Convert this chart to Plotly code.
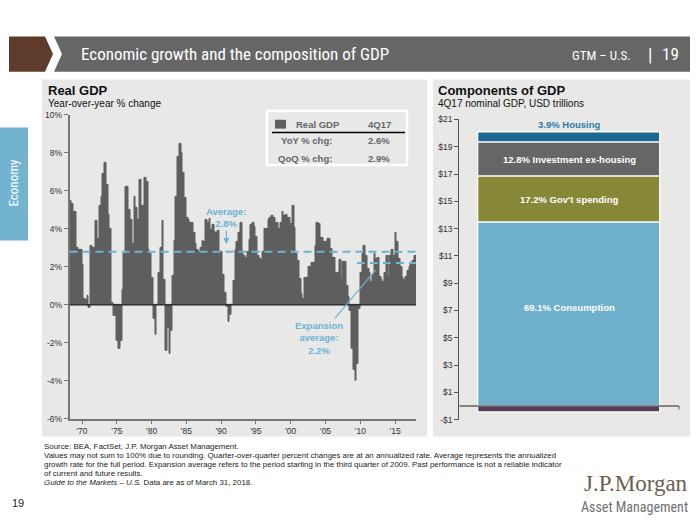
import plotly.graph_objects as go

# ---------------- DATA ----------------
start_year = 1968
real_gdp_yoy = [
    5.0, 5.5, 5.3, 4.9,     # 1968
    4.9, 3.0, 2.9, 2.9,     # 1969
    2.1, 0.3, 0.25, 0.5,    # 1970
    -0.15, 3.1, 3.0, 3.0,   # 1971
    4.4, 3.5, 5.2, 5.7,     # 1972
    6.9, 7.5, 6.3, 4.75,    # 1973
    4.0, 0.1, -0.6, -0.6,   # 1974
    -1.9, -2.3, -1.9, 0.8,  # 1975
    2.7, 6.2, 6.2, 5.0,     # 1976
    4.5, 3.2, 5.7, 5.1,     # 1977
    4.5, 6.6, 5.2, 5.2,     # 1978
    6.7, 6.5, 2.9, 2.7,     # 1979
    1.4, -0.75, -1.6, 0.0,  # 1980
    1.7, 3.0, 4.4, 1.3,     # 1981
    -2.4, -1.2, -2.6, -1.35,  # 1982
    1.55, 3.35, 5.7, 7.8,   # 1983
    8.5, 8.0, 6.95, 5.65,   # 1984
    4.6, 4.5, 4.3, 4.3,     # 1985
    3.8, 3.2, 2.9, 2.8,     # 1986
    3.0, 3.35, 3.3, 4.45,   # 1987
    4.3, 4.55, 3.95, 4.2,   # 1988
    3.85, 3.8, 3.9, 2.8,    # 1989
    2.8, 1.6, 0.65, -0.1,   # 1990
    -0.9, -0.5, 0.0, 1.25,  # 1991
    2.9, 3.3, 3.8, 4.3,     # 1992
    2.8, 2.6, 2.5, 2.8,     # 1993
    3.4, 4.2, 4.3, 4.1,     # 1994
    3.6, 2.6, 2.4, 2.3,     # 1995
    2.8, 4.0, 4.0, 4.5,     # 1996
    4.6, 4.7, 4.6, 4.3,     # 1997
    4.3, 4.0, 4.3, 4.9,     # 1998
    4.7, 4.75, 4.6, 4.6,    # 1999
    4.25, 5.2, 4.05, 2.7,   # 2000
    2.3, 1.35, 0.6, 0.3,    # 2001
    1.4, 1.4, 2.0, 2.0,     # 2002
    2.2, 2.2, 3.1, 4.3,     # 2003
    4.25, 3.55, 3.55, 3.3,  # 2004
    3.3, 3.45, 3.45, 2.95,  # 2005
    2.5, 2.5, 1.7, 1.7,     # 2006
    2.35, 1.35, 2.25, 2.25, # 2007
    1.0, 0.4, -0.3, -2.3,   # 2008
    -3.4, -4.0, -3.1, -0.2, # 2009
    1.7, 2.7, 3.1, 2.6,     # 2010
    1.9, 1.7, 1.2, 1.6,     # 2011
    2.7, 2.4, 2.5, 1.5,     # 2012
    1.3, 1.2, 1.7, 2.6,     # 2013
    1.5, 2.6, 2.9, 2.6,     # 2014
    3.8, 3.3, 2.4, 2.0,     # 2015
    1.4, 1.3, 1.5, 1.8,     # 2016
    2.0, 2.2, 2.3, 2.6,     # 2017
]
average_growth = 2.8
expansion_average = 2.2
expansion_start = 2009.5
tick_years = [1970, 1975, 1980, 1985, 1990, 1995, 2000, 2005, 2010, 2015]
tick_labels = ["'70", "'75", "'80", "'85", "'90", "'95", "'00", "'05", "'10", "'15"]
y_ticks = [-6, -4, -2, 0, 2, 4, 6, 8, 10]
y_tick_labels = ["-6%", "-4%", "-2%", "0%", "2%", "4%", "6%", "8%", "10%"]

comp_names = ["Consumption", "Gov't spending", "Investment ex-housing", "Housing", "Net exports"]
comp_values = [13.44, 3.41, 2.47, 0.72, -0.5]
comp_shares = ["69.1%", "17.2%", "12.8%", "3.9%", "-3.0%"]
comp_colors = ["#6fb1cc", "#868838", "#666666", "#1d6892", "#5b3a56"]
comp_ticks = [-1, 1, 3, 5, 7, 9, 11, 13, 15, 17, 19, 21]
comp_tick_labels = ["-$1", "$1", "$3", "$5", "$7", "$9", "$11", "$13", "$15", "$17", "$19", "$21"]

W, H = 700, 525
def px(x):
    return x / W
def py(y):
    return 1 - y / H

FONT = "Liberation Sans, Arial, sans-serif"
NARROW = "Liberation Sans Narrow, Arial Narrow, Roboto Condensed, Liberation Sans, sans-serif"
BLUE = "#6ab4d6"
BAR = "#5f5f5f"

fig = go.Figure()

xq = [start_year + i * 0.25 + 0.125 for i in range(len(real_gdp_yoy))]
fig.add_trace(go.Bar(x=xq, y=real_gdp_yoy, width=0.25,
                     marker=dict(color=BAR, line=dict(color=BAR, width=1.0)),
                     xaxis="x", yaxis="y", hoverinfo="x+y"))

for name, v, c in zip(comp_names, comp_values, comp_colors):
    fig.add_trace(go.Bar(x=[0.5], y=[v], width=0.83, name=name,
                         marker=dict(color=c, line=dict(color="white", width=1.2)),
                         xaxis="x2", yaxis="y2"))

shapes = []
# panels
shapes.append(dict(type="rect", xref="paper", yref="paper", x0=px(42), x1=px(427), y0=py(440), y1=py(76),
                   fillcolor="#e8e8e6", line=dict(width=0), layer="below"))
shapes.append(dict(type="rect", xref="paper", yref="paper", x0=px(433), x1=px(690), y0=py(440), y1=py(76),
                   fillcolor="#e8e8e6", line=dict(width=0), layer="below"))
# header
def path(points):
    return "M " + " L ".join(f"{px(a):.5f},{py(b):.5f}" for a, b in points) + " Z"
shapes.append(dict(type="path", xref="paper", yref="paper",
                   path=path([(9, 32), (45, 32), (53, 50), (45, 68), (9, 68)]),
                   fillcolor="#5e3b2b", line=dict(width=0), layer="below"))
shapes.append(dict(type="path", xref="paper", yref="paper",
                   path=path([(54, 32), (690, 32), (690, 68), (54, 68), (62, 50)]),
                   fillcolor="#666666", line=dict(width=0), layer="below"))
# sidebar
shapes.append(dict(type="rect", xref="paper", yref="paper", x0=0, x1=px(28), y0=py(240), y1=py(125),
                   fillcolor="#72b4cf", line=dict(width=0), layer="below"))
# legend box
shapes.append(dict(type="rect", xref="paper", yref="paper", x0=px(267), x1=px(407), y0=py(163), y1=py(108),
                   fillcolor="#e8e8e6", line=dict(color="white", width=2.5), layer="below"))
shapes.append(dict(type="rect", xref="paper", yref="paper", x0=px(275), x1=px(286), y0=py(126), y1=py(117),
                   fillcolor=BAR, line=dict(width=0), layer="above"))
shapes.append(dict(type="line", xref="paper", yref="paper", x0=px(272), x1=px(405), y0=py(130), y1=py(130),
                   line=dict(color="black", width=1.5), layer="above"))
# zero lines
shapes.append(dict(type="line", xref="x domain", yref="y", x0=0, x1=1, y0=0, y1=0,
                   line=dict(color="#222222", width=1.3), layer="above"))
shapes.append(dict(type="line", xref="x2 domain", yref="y2", x0=0, x1=1, y0=0, y1=0,
                   line=dict(color="#222222", width=1.2), layer="above"))
shapes.append(dict(type="line", xref="x2 domain", yref="y2", x0=1, x1=1, y0=0, y1=-0.25,
                   line=dict(color="#555555", width=1), layer="above"))
# averages
shapes.append(dict(type="line", xref="x domain", yref="y", x0=0, x1=1, y0=average_growth, y1=average_growth,
                   line=dict(color=BLUE, width=2, dash="8px,5px"), layer="above"))
shapes.append(dict(type="line", xref="x", yref="y", x0=expansion_start, x1=2018.0,
                   y0=expansion_average, y1=expansion_average,
                   line=dict(color=BLUE, width=2, dash="8px,5px"), layer="above"))

ann = []
def text(t, x, y, size, color, bold=False, xanchor="left", yanchor="middle", family=FONT, angle=0):
    if bold:
        t = f"<b>{t}</b>"
    ann.append(dict(text=t, x=px(x), y=py(y), xref="paper", yref="paper", showarrow=False,
                    xanchor=xanchor, yanchor=yanchor, textangle=angle,
                    font=dict(size=size, color=color, family=family)))

text("Economic growth and the composition of GDP", 79, 50, 17, "white", family=NARROW)
text("GTM – U.S.", 633, 51, 13, "white", xanchor="right", family=NARROW)
text("|", 650, 50, 18, "white", xanchor="center", family=NARROW)
text("19", 670, 50, 17, "white", xanchor="center", family=NARROW)
text("Economy", 14, 182, 13, "white", xanchor="center", family=NARROW, angle=-90)

text("Real GDP", 46, 87, 13, "#111111", bold=True)
text("Year-over-year % change", 46, 100, 10, "#111111")
text("Components of GDP", 436, 87, 13, "#111111", bold=True)
text("4Q17 nominal GDP, USD trillions", 436, 100, 10, "#111111")

text("Real GDP", 294, 121.5, 9.5, "#666666", bold=True)
text("4Q17", 379, 121.5, 9.5, "#666666", bold=True, xanchor="center")
text("YoY % chg:", 334, 138.5, 9.5, "#666666", bold=True, xanchor="right")
text("2.6%", 379, 138.5, 9.5, "#666666", bold=True, xanchor="center")
text("QoQ % chg:", 334, 156, 9.5, "#666666", bold=True, xanchor="right")
text("2.9%", 379, 156, 9.5, "#666666", bold=True, xanchor="center")

footer = [
    "Source: BEA, FactSet, J.P. Morgan Asset Management.",
    "Values may not sum to 100% due to rounding. Quarter-over-quarter percent changes are at an annualized rate. Average represents the annualized",
    "growth rate for the full period. Expansion average refers to the period starting in the third quarter of 2009. Past performance is not a reliable indicator",
    "of current and future results.",
    "<i>Guide to the Markets – U.S.</i> Data are as of March 31, 2018.",
]
for i, line in enumerate(footer):
    text(line, 42, 450 + i * 9.2, 7.9, "#222222")
text("19", 10, 508, 11, "#222222")
text("J.P.Morgan", 690, 488, 23, "#6e5c4c", xanchor="right", family="Liberation Serif, DejaVu Serif, serif")
text("Asset Management", 690, 512, 14, "#707070", xanchor="right", family=NARROW)

# chart annotations
ann.append(dict(text="<b>Average:<br>2.8%</b>", x=1990.75, y=3.2, ax=1990.75, ay=4.6,
                xref="x", yref="y", axref="x", ayref="y", showarrow=True,
                arrowhead=2, arrowsize=1, arrowwidth=1.2, arrowcolor=BLUE,
                font=dict(size=9.5, color=BLUE, family=FONT)))
ann.append(dict(text="<b>Expansion<br>average:<br>2.2%</b>", x=2012.2, y=1.84, ax=2004.0, ay=-1.72,
                xref="x", yref="y", axref="x", ayref="y", showarrow=True,
                arrowhead=0, arrowwidth=1.2, arrowcolor=BLUE,
                font=dict(size=9.5, color=BLUE, family=FONT)))

# component labels
cum = 0.0
pos_tops = []
for v in comp_values[:4]:
    pos_tops.append((cum, cum + v))
    cum += v
label_y = [
    (pos_tops[0][0] + pos_tops[0][1]) / 2 * 1.07,
    (pos_tops[1][0] + pos_tops[1][1]) / 2,
    (pos_tops[2][0] + pos_tops[2][1]) / 2,
    pos_tops[3][1] + 0.6,
    comp_values[4] - 0.77,
]
label_color = ["white", "white", "white", "#2c7ba6", "#5b3a56"]
for name, share, yv, col in zip(comp_names, comp_shares, label_y, label_color):
    sep = "  " if name == "Net exports" else " "
    ann.append(dict(text=f"<b>{share}{sep}{name}</b>", x=0.5, y=yv, xref="x2", yref="y2",
                    showarrow=False, font=dict(size=9.5, color=col, family=FONT)))

fig.update_layout(
    width=W, height=H, margin=dict(l=0, r=0, t=0, b=0),
    paper_bgcolor="white", plot_bgcolor="rgba(0,0,0,0)",
    showlegend=False, barmode="relative", bargap=0,
    font=dict(family=FONT),
    shapes=shapes, annotations=ann,
    xaxis=dict(domain=[px(69.5), px(416)], range=[1968.2, 2018.0], anchor="y",
               tickvals=tick_years, ticktext=tick_labels, ticks="outside", ticklen=3,
               tickcolor="#777777", showline=True, linecolor="#777777", linewidth=1.5,
               showgrid=False, zeroline=False, tickfont=dict(size=8.5, color="#333333")),
    yaxis=dict(domain=[py(422), py(112)], range=[-6, 10], anchor="x",
               tickvals=y_ticks, ticktext=y_tick_labels, ticks="outside", ticklen=4,
               tickcolor="#777777", showline=True, linecolor="#777777", linewidth=1.5,
               showgrid=False, zeroline=False, tickfont=dict(size=8.5, color="#333333")),
    xaxis2=dict(domain=[px(459.3), px(679)], range=[0, 1], anchor="y2", visible=False),
    yaxis2=dict(domain=[py(422.7), py(116.7)], range=[-1, 21], anchor="x2",
                tickvals=comp_ticks, ticktext=comp_tick_labels, ticks="outside", ticklen=4,
                tickcolor="#555555", showline=True, linecolor="#555555", linewidth=1.2,
                showgrid=False, zeroline=False, tickfont=dict(size=8.5, color="#333333")),
)

fig.write_html("out.html", config={"displayModeBar": False},
               post_script="document.body.style.margin='0px';document.body.style.overflow='hidden';")
